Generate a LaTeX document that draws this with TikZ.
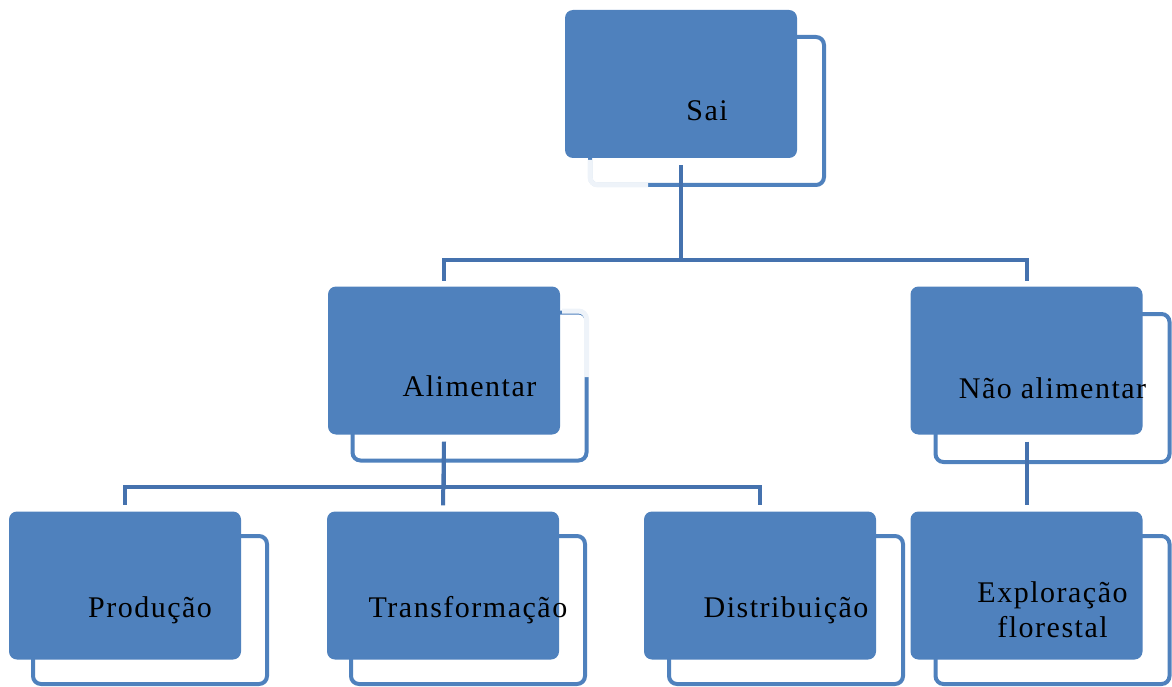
\documentclass[tikz,border=0pt]{standalone}
\usepackage{fontspec}
\setmainfont{Liberation Serif}[LetterSpace=5]
\begin{document}
\definecolor{boxblue}{HTML}{4F81BD}
\definecolor{linkblue}{HTML}{4572AE}
\definecolor{paleblue}{HTML}{EEF3F9}
\begin{tikzpicture}[x=1pt,y=-1pt,
  frontbox/.style={rectangle, rounded corners=8pt, fill=boxblue, draw=none,
    minimum width=232pt, minimum height=148pt, inner sep=0pt},
  backbox/.style={rectangle, rounded corners=8pt, fill=white, draw=boxblue,
    line width=4pt, minimum width=234pt, minimum height=148pt, inner sep=0pt},
  boxtext/.style={font=\fontsize{30}{35}\selectfont, text=black, align=center, inner sep=0pt},
  link/.style={draw=linkblue, line width=4pt}]
\useasboundingbox (0,0) rectangle (1172,687);

% shadow frames behind the boxes
\node[backbox] (sai-b)  at (707,111) {};
\node[backbox] (ali-b)  at (469.5,386.5) {};
\node[backbox] (nal-b)  at (1052.5,388) {};
\node[backbox] (pro-b)  at (150,610) {};
\node[backbox] (tra-b)  at (468,610) {};
\node[backbox] (dis-b)  at (786,610) {};
\node[backbox] (exp-b)  at (1052.5,610) {};

% faded stretches of two frames
\draw[draw=paleblue, line width=5pt, rounded corners=8pt]
  (590,160) -- (590,185) -- (648,185);
\draw[draw=paleblue, line width=5pt, rounded corners=8pt]
  (562,311) -- (586.5,311) -- (586.5,377);

% filled boxes
\node[frontbox] (sai) at (681,84) {};
\node[frontbox] (ali) at (444,360.5) {};
\node[frontbox] (nal) at (1026.5,360.5) {};
\node[frontbox] (pro) at (125,585.5) {};
\node[frontbox] (tra) at (443,585.5) {};
\node[frontbox] (dis) at (760,585.5) {};
\node[frontbox] (exp) at (1026.5,585.5) {};

% connectors, leaving a small gap at both ends
\draw[link] ([yshift=-7pt]sai.south) -- ++(0,95) -| ([yshift=5pt]ali.north);
\draw[link] ([yshift=-7pt]sai.south) ++(0,95) -| ([yshift=5pt]nal.north);
\draw[link] ([yshift=-7pt]ali.south) -- ++(0,45) -| ([yshift=6pt]pro.north);
\draw[link] ([yshift=-7pt]ali.south) -- ([yshift=6pt]tra.north);
\draw[link] ([yshift=-7pt]ali.south) ++(0,45) -| ([yshift=6pt]dis.north);
\draw[link] ([yshift=-7pt]nal.south) -- ([yshift=6pt]exp.north);

% labels
\node[boxtext] (sai-t) at (sai-b.center) {Sai};
\node[boxtext] (ali-t) at (ali-b.center) {Alimentar};
\node[boxtext] (nal-t) at (nal-b.center) {Não alimentar};
\node[boxtext] (pro-t) at (pro-b.center) {Produção};
\node[boxtext] (tra-t) at (tra-b.center) {Transformação};
\node[boxtext] (dis-t) at (dis-b.center) {Distribuição};
\node[boxtext] (exp-t) at (exp-b.center) {Exploração\\florestal};
\end{tikzpicture}
\end{document}
